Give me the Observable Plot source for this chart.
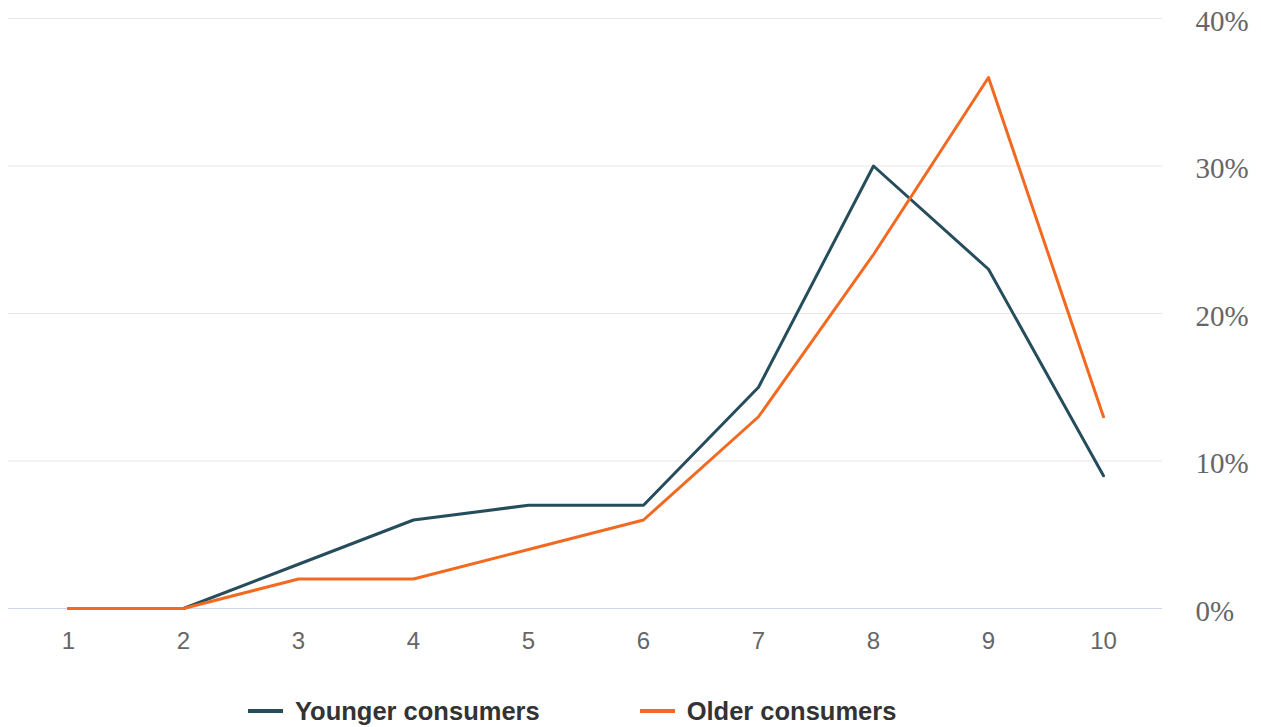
<!DOCTYPE html>
<html>
<head>
<meta charset="utf-8">
<script src="https://cdn.jsdelivr.net/npm/d3@7"></script>
<script src="https://cdn.jsdelivr.net/npm/@observablehq/plot@0.6"></script>
<style>
  html, body { margin: 0; padding: 0; background: #fff; overflow: hidden; }
  #legend { display: flex; justify-content: flex-start; height: 82px; align-items: center; padding-left: 248px; font-family: "Liberation Sans", Arial, sans-serif; font-weight: bold; font-size: 25.5px; color: #333; }
  .item { display: flex; align-items: center; margin-right: 100px; }
  .sw { width: 35px; height: 4px; margin-right: 12px; display: inline-block; }
</style>
</head>
<body>
<div id="chart"></div>
<div id="legend"></div>
<script>
const categories = [1, 2, 3, 4, 5, 6, 7, 8, 9, 10];
const younger = [0, 0, 3, 6, 7, 7, 15, 30, 23, 9];
const older = [0, 0, 2, 2, 4, 6, 13, 24, 36, 13];
const yTicks = [0, 10, 20, 30, 40];
const seriesNames = ["Younger consumers", "Older consumers"];
const seriesColors = ["#264d5b", "#f26a21"];

const rows = [];
categories.forEach((c, i) => {
  rows.push({x: c, y: younger[i], s: seriesNames[0]});
  rows.push({x: c, y: older[i], s: seriesNames[1]});
});

const chart = Plot.plot({
  width: 1261,
  height: 670,
  marginLeft: 8,
  marginRight: 99,
  marginTop: 18,
  marginBottom: 62,
  style: {background: "#fff", overflow: "visible"},
  x: {type: "point", domain: categories, padding: 0.5},
  y: {domain: [0, 40]},
  color: {domain: seriesNames, range: seriesColors},
  marks: [
    Plot.gridY(yTicks, {stroke: "#e6e6e6", strokeOpacity: 1, strokeWidth: 1}),
    Plot.ruleY([0], {stroke: "#ccd6eb", strokeWidth: 1}),
    Plot.axisY(yTicks, {anchor: "right", tickSize: 0, tickPadding: 33, dy: 3, tickFormat: d => d + "%", fontSize: 29, fontFamily: "Liberation Serif, serif", fill: "#666", label: null}),
    Plot.axisX({tickSize: 0, tickPadding: 23, fontSize: 24, fontFamily: "Liberation Sans, Arial, sans-serif", fill: "#666", label: null}),
    Plot.line(rows, {x: "x", y: "y", z: "s", stroke: "s", strokeWidth: 3, curve: "linear"})
  ]
});
document.getElementById("chart").appendChild(chart);

const legend = document.getElementById("legend");
seriesNames.forEach((n, i) => {
  const it = document.createElement("div");
  it.className = "item";
  const sw = document.createElement("span");
  sw.className = "sw";
  sw.style.background = seriesColors[i];
  const t = document.createElement("span");
  t.textContent = n;
  it.appendChild(sw);
  it.appendChild(t);
  legend.appendChild(it);
});
</script>
</body>
</html>
